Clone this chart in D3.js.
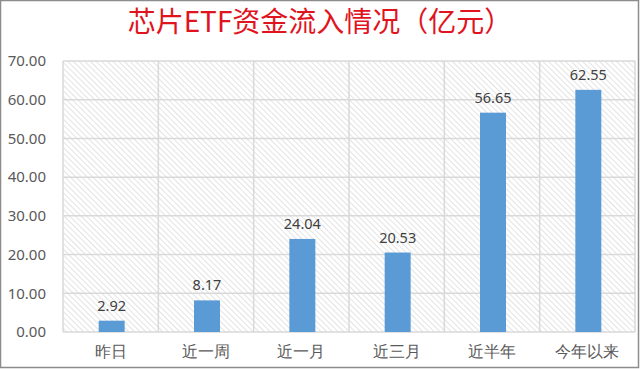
<!DOCTYPE html>
<html>
<head>
<meta charset="utf-8">
<script src="https://cdn.jsdelivr.net/npm/d3@7"></script>
<style>
  body { margin: 0; background: #fff; }
  svg { display: block; font-family: "Noto Sans CJK SC", "Noto Sans", sans-serif; }
</style>
</head>
<body>
<svg id="chart" width="640" height="369"></svg>
<script>
const categories = ['昨日', '近一周', '近一月', '近三月', '近半年', '今年以来']
const inflows = [2.92, 8.17, 24.04, 20.53, 56.65, 62.55]
const yTicks = [0, 10, 20, 30, 40, 50, 60, 70]
const title = '芯片ETF资金流入情况（亿元）'

const svg = d3.select('#chart')
const W = 640, H = 369
const plot = {left: 63, right: 635, top: 61, bottom: 332}

// hatch pattern for the plot background
let defs = svg.append('defs')
let pat = defs.append('pattern')
  .attr('id', 'hatch')
  .attr('patternUnits', 'userSpaceOnUse')
  .attr('width', 4).attr('height', 4)
  .attr('patternTransform', 'rotate(-45)')
pat.append('line')
  .attr('x1', 0).attr('y1', 0).attr('x2', 0).attr('y2', 4)
  .attr('stroke', '#c8c8c8').attr('stroke-width', 1)

svg.append('rect')
  .attr('x', 0.5).attr('y', 0.5).attr('width', W - 2).attr('height', H - 2)
  .attr('fill', '#fff').attr('stroke', '#8c8c8c').attr('stroke-width', 1.5)

let x = d3.scaleBand().domain(categories).range([plot.left, plot.right]).paddingInner(0).paddingOuter(0)
let y = d3.scaleLinear().domain([0, 70]).range([plot.bottom, plot.top])

svg.append('rect')
  .attr('x', plot.left).attr('y', plot.top)
  .attr('width', plot.right - plot.left).attr('height', plot.bottom - plot.top)
  .attr('fill', 'url(#hatch)')

// grid lines
svg.append('g').selectAll('line.h').data(yTicks).join('line')
  .attr('x1', plot.left).attr('x2', plot.right)
  .attr('y1', d => y(d)).attr('y2', d => y(d))
  .attr('stroke', '#d9d9d9').attr('stroke-width', 1.5)

let vEdges = categories.map(c => x(c)).concat([plot.right])
svg.append('g').selectAll('line.v').data(vEdges).join('line')
  .attr('x1', d => d).attr('x2', d => d)
  .attr('y1', plot.top).attr('y2', plot.bottom)
  .attr('stroke', '#d9d9d9').attr('stroke-width', 1.5)

// y axis labels
let yAxis = svg.append('g')
  .attr('transform', `translate(${plot.left - 17},0)`)
  .call(d3.axisLeft(y).tickValues(yTicks).tickFormat(d3.format('.2f')).tickSize(0).tickPadding(0))
yAxis.select('.domain').remove()
yAxis.selectAll('text')
  .attr('fill', '#595959').style('font-size', '15px')
  .style('font-family', '"Noto Sans", sans-serif')

// x axis labels
let xAxis = svg.append('g')
  .attr('transform', `translate(0,${plot.bottom})`)
  .call(d3.axisBottom(x).tickSize(0).tickPadding(14))
xAxis.select('.domain').remove()
xAxis.selectAll('text')
  .attr('fill', '#595959').style('font-size', '15.5px')

// bars
let barW = 26
svg.append('g').selectAll('rect').data(inflows).join('rect')
  .attr('x', (d, i) => x(categories[i]) + x.bandwidth() / 2 - barW / 2 + 1)
  .attr('y', d => y(d))
  .attr('width', barW)
  .attr('height', d => y(0) - y(d))
  .attr('fill', '#5b9bd5')

svg.append('g').selectAll('text').data(inflows).join('text')
  .attr('x', (d, i) => x(categories[i]) + x.bandwidth() / 2 + 1)
  .attr('y', d => y(d) - 10)
  .attr('text-anchor', 'middle')
  .attr('fill', '#404040')
  .style('font-size', '14.5px')
  .style('font-family', '"Noto Sans", sans-serif')
  .text(d => d.toFixed(2))

svg.append('text')
  .attr('x', 320).attr('y', 32)
  .attr('text-anchor', 'middle')
  .attr('fill', '#e0141e')
  .style('font-size', '28px')
  .text(title)
</script>
</body>
</html>
